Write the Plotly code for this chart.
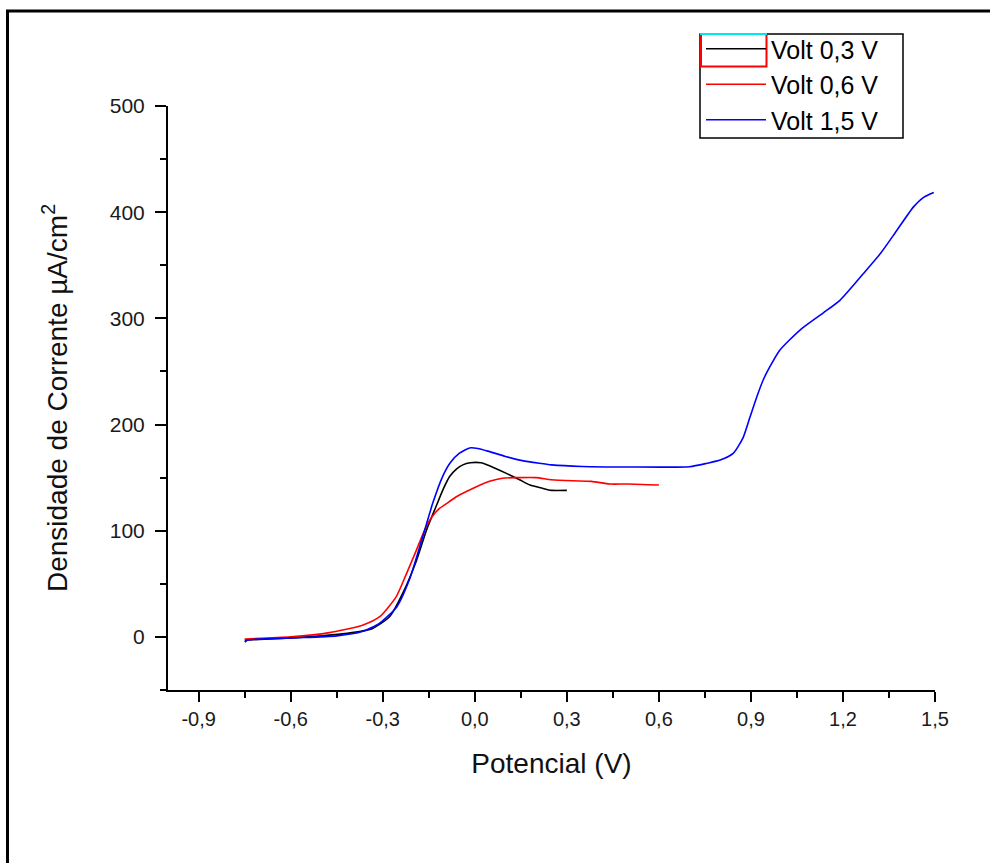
import plotly.graph_objects as go

# ---- data ----
x_03 = [-0.75, -0.6, -0.5, -0.4, -0.333, -0.278, -0.235, -0.19, -0.157, -0.126,
        -0.104, -0.082, -0.06, -0.039, -0.015, 0.02, 0.05, 0.103, 0.146, 0.18,
        0.22, 0.25, 0.3]
y_03 = [-3, -1, 1, 4, 8, 19, 41, 72, 101, 123,
        138.5, 151, 158, 162, 164, 164, 161, 154, 148, 143,
        140, 138, 138]

x_06 = [-0.75, -0.6, -0.474, -0.366, -0.31, -0.256, -0.225, -0.19, -0.16, -0.14,
        -0.115, -0.085, -0.06, -0.005, 0.048, 0.09, 0.14, 0.2, 0.25, 0.32,
        0.38, 0.44, 0.5, 0.6]
y_06 = [-2, 0, 4, 11, 19, 38, 58, 82, 103, 113,
        121, 127, 132, 140, 146.5, 149.5, 150, 150, 148, 147,
        146.5, 144, 144, 143]

x_15 = [-0.75, -0.74, -0.6, -0.45, -0.367, -0.31, -0.255, -0.213, -0.17, -0.137,
        -0.105, -0.08, -0.05, -0.017, 0.01, 0.048, 0.1, 0.155, 0.21, 0.25,
        0.35, 0.5, 0.7, 0.757, 0.8, 0.843, 0.875, 0.897, 0.919, 0.94,
        0.961, 0.994, 1.06, 1.135, 1.19, 1.266, 1.322, 1.376, 1.43, 1.463, 1.496]
y_15 = [-5, -3, -1, 1, 5, 13, 28, 54, 94, 126,
        151, 164, 173, 178, 177.5, 174.5, 170, 166, 163.5, 162,
        160.5, 160, 160.3, 163.5, 166.5, 173, 188, 207, 226, 242,
        254, 270, 289, 305, 317, 342, 361, 383, 405, 414, 418.5]

series_names = ["Volt 0,3 V", "Volt 0,6 V", "Volt 1,5 V"]
series_colors = ["#000000", "#ff0000", "#0000ff"]

x_tick_vals = [-0.9, -0.6, -0.3, 0.0, 0.3, 0.6, 0.9, 1.2, 1.5]
x_tick_text = ["-0,9", "-0,6", "-0,3", "0,0", "0,3", "0,6", "0,9", "1,2", "1,5"]
y_tick_vals = [0, 100, 200, 300, 400, 500]
y_tick_text = ["0", "100", "200", "300", "400", "500"]

FONT = "Liberation Sans, Arial, sans-serif"

fig = go.Figure()
for xs, ys, name, col in zip([x_03, x_06, x_15], [y_03, y_06, y_15], series_names, series_colors):
    fig.add_trace(go.Scatter(x=xs, y=ys, mode="lines", name=name,
                             line=dict(color=col, width=1.6, shape="spline", smoothing=0.6)))

# plot area in pixels: x 168..935, y 106..690
W, H = 990, 863
L, R, T, B = 168, 55, 106, 173
pw, ph = W - L - R, H - T - B

def px(xp):
    return (xp - L) / pw

def py(yp):
    return (H - B - yp) / ph

shapes = [
    # outer frame (left + top edges)
    dict(type="path", xref="paper", yref="paper",
         path=f"M {px(7.5)},{py(870)} L {px(7.5)},{py(11)} L {px(1000)},{py(11)}",
         line=dict(color="black", width=3)),
    # legend box
    dict(type="rect", xref="paper", yref="paper",
         x0=px(700), x1=px(903), y0=py(34), y1=py(138),
         line=dict(color="black", width=1.5)),
    # legend glitch: red box and cyan line over the first entry
    dict(type="path", xref="paper", yref="paper",
         path=f"M {px(701)},{py(35)} L {px(701)},{py(66.5)} L {px(766.5)},{py(66.5)} L {px(766.5)},{py(35)}",
         line=dict(color="#ff0000", width=2)),
    dict(type="line", xref="paper", yref="paper",
         x0=px(700), x1=px(767), y0=py(34), y1=py(34),
         line=dict(color="#00e5ee", width=2)),
]

fig.update_layout(
    width=W, height=H,
    margin=dict(l=L, r=R, t=T, b=B, autoexpand=False),
    paper_bgcolor="white", plot_bgcolor="white",
    font=dict(family=FONT, color="black"),
    showlegend=True,
    legend=dict(x=px(701), y=py(26), xanchor="left", yanchor="top",
                borderwidth=0, bgcolor="rgba(255,255,255,0)",
                font=dict(family=FONT, size=25, color="black"),
                tracegroupgap=0, itemwidth=60),
    shapes=shapes,
)

fig.update_xaxes(range=[-1.0, 1.5], showline=True, linecolor="black", linewidth=2,
                 showgrid=False, zeroline=False, mirror=False,
                 ticks="outside", ticklen=10, tickwidth=2, tickcolor="black",
                 tickmode="array", tickvals=x_tick_vals, ticktext=x_tick_text,
                 tickfont=dict(family=FONT, size=20, color="#1a1a1a"),
                 minor=dict(ticks="outside", ticklen=6, tickwidth=2, tickcolor="black",
                            dtick=0.15, tick0=-0.9),
                 title=dict(text="Potencial (V)", font=dict(family=FONT, size=28, color="#111"),
                            standoff=24))

fig.update_yaxes(range=[-50, 500], showline=True, linecolor="black", linewidth=2,
                 showgrid=False, zeroline=False, mirror=False,
                 ticks="outside", ticklen=11, tickwidth=2, tickcolor="black",
                 tickmode="array", tickvals=y_tick_vals, ticktext=y_tick_text,
                 tickfont=dict(family=FONT, size=21, color="#1a1a1a"),
                 ticklabelstandoff=6,
                 minor=dict(ticks="outside", ticklen=6, tickwidth=2, tickcolor="black",
                            dtick=50, tick0=0),
                 title=dict(text="Densidade de Corrente µA/cm<sup>2</sup>",
                            font=dict(family=FONT, size=28, color="#111"),
                            standoff=34))

fig.write_html("out.html", config={"displayModeBar": False},
               post_script="document.body.style.margin='0px';")
